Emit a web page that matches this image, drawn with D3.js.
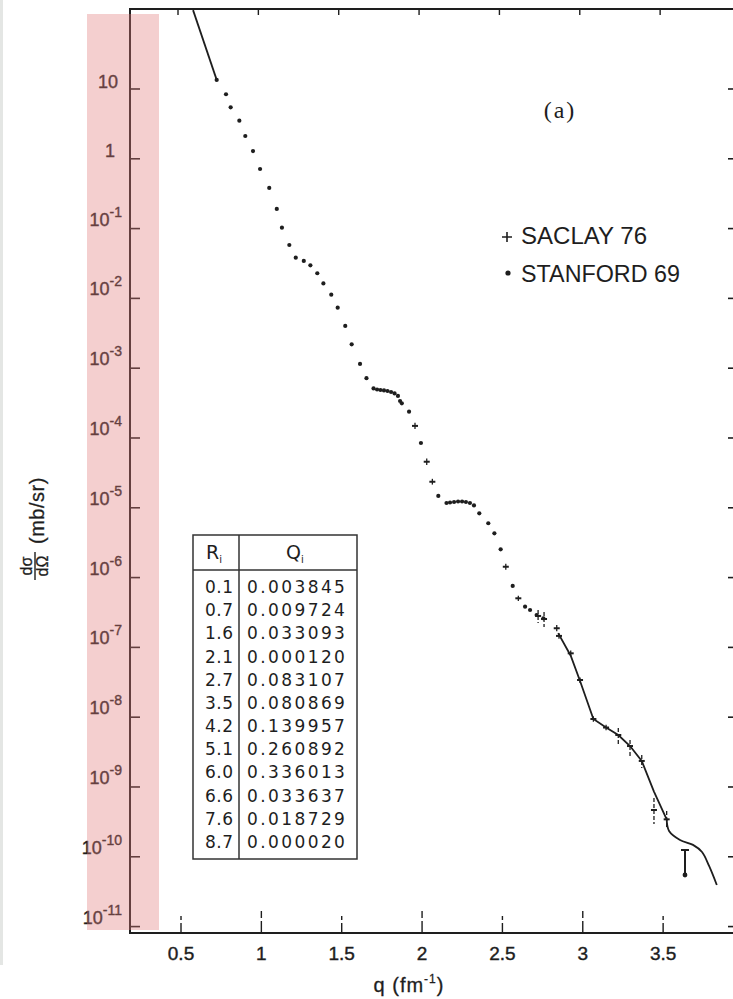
<!DOCTYPE html>
<html>
<head>
<meta charset="utf-8">
<script src="https://cdn.jsdelivr.net/npm/d3@7.9.0/dist/d3.min.js"></script>
<style>
  body { margin: 0; background: #fff; }
  svg { display: block; }
</style>
</head>
<body>
<svg id="chart" width="733" height="999"></svg>
<script>
// Stanford 69 points: [q (fm^-1), dσ/dΩ (mb/sr)]
const stanford = [
  [0.722, 13.5], [0.780, 8.4], [0.809, 5.47], [0.863, 3.52], [0.900, 2.12],
  [0.948, 1.29], [0.992, 0.714], [1.049, 0.382], [1.096, 0.191], [1.128, 0.103],
  [1.174, 0.0582], [1.214, 0.0383], [1.264, 0.0344], [1.305, 0.0298], [1.348, 0.0229],
  [1.386, 0.0164], [1.435, 0.0113], [1.475, 7.36e-3], [1.522, 4.03e-3], [1.562, 2.2e-3],
  [1.614, 1.15e-3], [1.654, 7.2e-4], [1.698, 5.13e-4], [1.720, 4.95e-4], [1.741, 4.87e-4],
  [1.763, 4.80e-4], [1.785, 4.71e-4], [1.807, 4.56e-4], [1.829, 4.35e-4], [1.850, 4.0e-4],
  [1.863, 3.39e-4], [1.874, 3.14e-4], [1.919, 2.38e-4], [1.993, 8.47e-5], [2.101, 1.48e-5],
  [2.152, 1.17e-5], [2.174, 1.19e-5], [2.199, 1.21e-5], [2.224, 1.23e-5], [2.249, 1.23e-5],
  [2.273, 1.21e-5], [2.298, 1.17e-5], [2.323, 1.08e-5], [2.356, 8.34e-6], [2.412, 6.0e-6],
  [2.450, 4.31e-6], [2.489, 2.54e-6], [2.564, 7.6e-7], [2.641, 3.83e-7], [2.672, 3.43e-7],
  [2.713, 2.91e-7], [2.755, 2.61e-7]
];

// Saclay 76 points: [q, value, upper, lower]
const saclay = [
  [1.956, 1.49e-4, 1.65e-4, 1.35e-4],
  [2.029, 4.57e-5, 5.1e-5, 4.1e-5],
  [2.064, 2.36e-5, 2.6e-5, 2.15e-5],
  [2.521, 1.43e-6, 1.58e-6, 1.3e-6],
  [2.599, 5.05e-7, 5.5e-7, 4.6e-7],
  [2.722, 2.82e-7, 3.43e-7, 2.24e-7],
  [2.759, 2.55e-7, 3.21e-7, 1.96e-7],
  [2.838, 1.88e-7, 2.1e-7, 1.7e-7],
  [2.852, 1.46e-7, 1.6e-7, 1.33e-7],
  [2.925, 8.22e-8, 9.0e-8, 7.5e-8],
  [2.983, 3.41e-8, 3.7e-8, 3.1e-8],
  [3.066, 9.42e-9, 1.03e-8, 8.6e-9],
  [3.145, 7.11e-9, 7.8e-9, 6.5e-9],
  [3.221, 5.56e-9, 7.0e-9, 4.0e-9],
  [3.294, 3.86e-9, 4.71e-9, 2.78e-9],
  [3.367, 2.36e-9, 2.87e-9, 1.87e-9],
  [3.443, 4.68e-10, 6.95e-10, 2.95e-10],
  [3.522, 3.44e-10, 4.53e-10, 2.59e-10],
  [3.636, 5.48e-11, 1.25e-10, 5.48e-11]
];

// fitted curve: visible pieces
const theoryTop = [[0.575, 135], [0.722, 13.5]];
const theoryMid = [
  [2.847, 1.6e-7], [2.925, 7.6e-8], [2.983, 3.3e-8], [3.066, 9.42e-9], [3.145, 7.11e-9],
  [3.221, 5.56e-9], [3.294, 3.86e-9], [3.367, 2.36e-9], [3.443, 8.6e-10], [3.522, 3.44e-10]
];
const theoryEnd = [
  [3.522, 3.44e-10], [3.537, 2.34e-10], [3.605, 1.74e-10], [3.686, 1.48e-10],
  [3.742, 1.17e-10], [3.786, 7.38e-11], [3.834, 3.94e-11]
];

const tableR = ['0.1', '0.7', '1.6', '2.1', '2.7', '3.5', '4.2', '5.1', '6.0', '6.6', '7.6', '8.7'];
const tableQ = ['0.003845', '0.009724', '0.033093', '0.000120', '0.083107', '0.080869',
  '0.139957', '0.260892', '0.336013', '0.033637', '0.018729', '0.000020'];

const xTicks = [0.5, 1, 1.5, 2, 2.5, 3, 3.5];
const xTickLabels = ['0.5', '1', '1.5', '2', '2.5', '3', '3.5'];
const yTickExps = [1, 0, -1, -2, -3, -4, -5, -6, -7, -8, -9, -10, -11];

const ink = '#1e1e1e';
const sans = 'Liberation Sans, Arial, sans-serif';
const svg = d3.select('#chart');

const plot = { left: 130, right: 734, top: 9, bottom: 933 };

const x = d3.scaleLinear().domain([0.1826, 3.941]).range([plot.left, plot.right]);
const y = d3.scaleLog().domain([Math.pow(10, -11.092), Math.pow(10, 2.146)]).range([plot.bottom, plot.top]);

// scan edge
svg.append('rect').attr('x', 0).attr('y', 0).attr('width', 3).attr('height', 965).attr('fill', '#e4e6e4');

// frame
svg.append('path')
  .attr('d', `M${plot.right},${plot.top}H${plot.left}V${plot.bottom}H${plot.right}`)
  .attr('fill', 'none').attr('stroke', ink).attr('stroke-width', 2);

// left + right ticks
const yTicks = yTickExps.map(e => Math.pow(10, e)).filter(v => v > y.domain()[0]);
svg.append('g').selectAll('line').data(yTicks).join('line')
  .attr('x1', plot.left).attr('x2', plot.left + 10)
  .attr('y1', d => y(d)).attr('y2', d => y(d))
  .attr('stroke', ink).attr('stroke-width', 1.6);
svg.append('g').selectAll('line').data(yTicks).join('line')
  .attr('x1', plot.right - 6).attr('x2', plot.right)
  .attr('y1', d => y(d)).attr('y2', d => y(d))
  .attr('stroke', ink).attr('stroke-width', 1.6);

// bottom + top ticks
svg.append('g').selectAll('line').data(xTicks).join('line')
  .attr('x1', d => x(d)).attr('x2', d => x(d))
  .attr('y1', plot.bottom).attr('y2', d => plot.bottom - (Number.isInteger(d) ? 22 : 17))
  .attr('stroke', ink).attr('stroke-width', 1.4)
  .attr('stroke-dasharray', d => Number.isInteger(d) ? '12,3,7' : '10,3,4');
svg.append('g').selectAll('line').data(xTicks).join('line')
  .attr('x1', d => x(d) - 3).attr('x2', d => x(d) - 3)
  .attr('y1', plot.top).attr('y2', plot.top + 6)
  .attr('stroke', ink).attr('stroke-width', 1.4);

// x tick labels
svg.append('g').selectAll('text').data(xTicks).join('text')
  .attr('x', d => x(d)).attr('y', 960)
  .attr('text-anchor', 'middle')
  .attr('font-family', sans).attr('font-size', 19)
  .attr('fill', ink).attr('stroke', ink).attr('stroke-width', 0.4)
  .text((d, i) => xTickLabels[i]);

// y tick labels
const yl = svg.append('g').attr('font-family', sans).attr('fill', ink)
  .attr('stroke', ink).attr('stroke-width', 0.4);
yTickExps.forEach(e => {
  const ty = y(Math.pow(10, e));
  const t = yl.append('text').attr('text-anchor', 'end').attr('font-size', 18);
  if (e === 1) {
    t.attr('x', 118).attr('y', ty - 1).text('10');
  } else if (e === 0) {
    t.attr('x', 115).attr('y', ty - 2).text('1');
  } else {
    t.attr('x', 122).attr('y', ty - 3);
    t.append('tspan').text('10');
    t.append('tspan').attr('font-size', 14).attr('dy', -9).text(String(e));
  }
});

// axis titles
const xt = svg.append('text').attr('x', 409).attr('y', 992)
  .attr('text-anchor', 'middle')
  .attr('font-family', sans).attr('font-size', 20).attr('letter-spacing', 1)
  .attr('fill', ink).attr('stroke', ink).attr('stroke-width', 0.3);
xt.append('tspan').text('q (fm');
xt.append('tspan').attr('font-size', 12).attr('dy', -9).text('-1');
xt.append('tspan').attr('dy', 9).text(')');

const yt = svg.append('g').attr('transform', 'translate(37,524) rotate(-90)')
  .attr('font-family', sans).attr('fill', ink).attr('stroke', ink).attr('stroke-width', 0.3);
yt.append('text').attr('x', -42).attr('y', -5).attr('text-anchor', 'middle').attr('font-size', 16).text('dσ');
yt.append('line').attr('x1', -56).attr('x2', -28).attr('y1', -2).attr('y2', -2).attr('stroke-width', 1.4);
yt.append('text').attr('x', -42).attr('y', 11).attr('text-anchor', 'middle').attr('font-size', 16).text('dΩ');
yt.append('text').attr('x', -20).attr('y', 7).attr('font-size', 20).attr('letter-spacing', 0.5).text('(mb/sr)');

// fitted curve
const line = d3.line().x(d => x(d[0])).y(d => y(d[1]));
const smooth = d3.line().x(d => x(d[0])).y(d => y(d[1])).curve(d3.curveCatmullRom);
svg.append('clipPath').attr('id', 'clip').append('rect')
  .attr('x', plot.left).attr('y', plot.top).attr('width', plot.right - plot.left).attr('height', plot.bottom - plot.top);
const curves = svg.append('g').attr('clip-path', 'url(#clip)')
  .attr('fill', 'none').attr('stroke', ink).attr('stroke-width', 1.8);
curves.append('path').datum(theoryTop).attr('d', line);
curves.append('path').datum(theoryMid).attr('d', line);
curves.append('path').datum(theoryEnd).attr('d', smooth);

// Stanford dots
svg.append('g').selectAll('circle').data(stanford).join('circle')
  .attr('cx', d => x(d[0])).attr('cy', d => y(d[1])).attr('r', 2.1).attr('fill', ink);

// Saclay crosses with error bars
const body = saclay.slice(0, -1);
const sg = svg.append('g').attr('stroke', ink).attr('stroke-width', 1.3);
sg.selectAll('line.err').data(body).join('line').attr('class', 'err')
  .attr('x1', d => x(d[0])).attr('x2', d => x(d[0]))
  .attr('y1', d => y(d[2])).attr('y2', d => y(d[3]))
  .attr('stroke-dasharray', d => (y(d[3]) - y(d[2]) > 12 ? '4,2' : null));
sg.selectAll('line.h').data(body).join('line').attr('class', 'h')
  .attr('x1', d => x(d[0]) - 3).attr('x2', d => x(d[0]) + 3)
  .attr('y1', d => y(d[1])).attr('y2', d => y(d[1])).attr('stroke-width', 2);
// the last point is drawn as a capped bar with the dot at its foot
const last = saclay[saclay.length - 1];
sg.append('line').attr('x1', x(last[0]) - 4).attr('x2', x(last[0]) + 4)
  .attr('y1', y(last[2])).attr('y2', y(last[2])).attr('stroke-width', 2);
sg.append('line').attr('x1', x(last[0])).attr('x2', x(last[0]))
  .attr('y1', y(last[2])).attr('y2', y(last[3])).attr('stroke-width', 2);
svg.append('circle').attr('cx', x(last[0])).attr('cy', y(last[1])).attr('r', 2.4).attr('fill', ink);

// legend + panel tag
svg.append('text').attr('x', 560).attr('y', 118).attr('text-anchor', 'middle')
  .attr('font-family', 'Liberation Serif, Times New Roman, serif').attr('font-size', 24)
  .attr('letter-spacing', 2).attr('fill', ink).text('(a)');
const lg = svg.append('g').attr('font-family', sans).attr('font-size', 23).attr('fill', ink);
lg.append('path').attr('d', 'M502,237h10M507,232v10').attr('stroke', ink).attr('stroke-width', 1.6);
lg.append('text').attr('x', 521).attr('y', 244).attr('textLength', 126).attr('lengthAdjust', 'spacingAndGlyphs').text('SACLAY 76');
lg.append('circle').attr('cx', 508).attr('cy', 273).attr('r', 2.6).attr('fill', ink);
lg.append('text').attr('x', 521).attr('y', 282).attr('textLength', 159).attr('lengthAdjust', 'spacingAndGlyphs').text('STANFORD 69');

// table
const tb = svg.append('g').attr('font-family', 'DejaVu Sans, Verdana, sans-serif').attr('fill', ink);
tb.append('rect').attr('x', 193).attr('y', 535).attr('width', 164).attr('height', 324)
  .attr('fill', '#fff').attr('stroke', '#333').attr('stroke-width', 1.5);
tb.append('line').attr('x1', 193).attr('x2', 357).attr('y1', 570).attr('y2', 570).attr('stroke', '#333').attr('stroke-width', 1.5);
tb.append('line').attr('x1', 239).attr('x2', 239).attr('y1', 535).attr('y2', 859).attr('stroke', '#333').attr('stroke-width', 1.5);
const hR = tb.append('text').attr('x', 206).attr('y', 559).attr('font-size', 19);
hR.append('tspan').text('R');
hR.append('tspan').attr('font-size', 10).attr('dy', 4).text('i');
const hQ = tb.append('text').attr('x', 286).attr('y', 559).attr('font-size', 19);
hQ.append('tspan').text('Q');
hQ.append('tspan').attr('font-size', 10).attr('dy', 4).text('i');
const rowY = d3.scaleLinear().domain([0, tableR.length - 1]).range([593, 848]);
tb.selectAll('text.r').data(tableR).join('text').attr('class', 'r')
  .attr('x', 205).attr('y', (d, i) => rowY(i)).attr('font-size', 17).attr('letter-spacing', 0.5).text(d => d);
tb.selectAll('text.q').data(tableQ).join('text').attr('class', 'q')
  .attr('x', 247).attr('y', (d, i) => rowY(i)).attr('font-size', 17).attr('letter-spacing', 2.4).text(d => d);

// pink highlight band over the y labels
svg.append('rect').attr('x', 87).attr('y', 14).attr('width', 72).attr('height', 916)
  .attr('fill', '#e07b7b').attr('opacity', 0.36);
</script>
</body>
</html>
